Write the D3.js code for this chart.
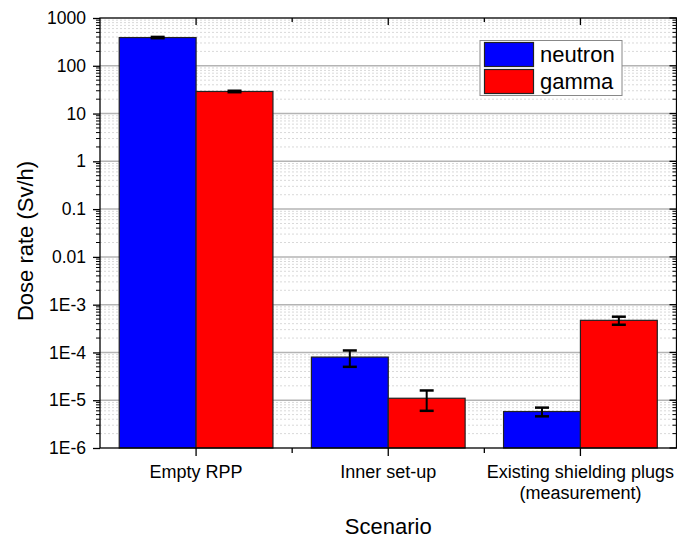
<!DOCTYPE html>
<html><head><meta charset="utf-8">
<script src="https://cdn.jsdelivr.net/npm/d3@7"></script>
<style>body{margin:0;background:#fff}svg{display:block}text{font-family:"Liberation Sans",Arial,sans-serif;fill:#000}</style>
</head><body>
<svg id="c" width="677" height="538"></svg>
<script>
const categories = ["Empty RPP", "Inner set-up", "Existing shielding plugs\n(measurement)"];
const seriesNames = ["neutron", "gamma"];
const seriesColors = ["#0000ff", "#ff0000"];
const neutron = [390, 8e-5, 5.8e-6];
const neutronErr = [12, 3e-5, 1.2e-6];
const gamma = [29, 1.1e-5, 4.7e-4];
const gammaErr = [1, 5e-6, 9e-5];
const yTickValues = [1000, 100, 10, 1, 0.1, 0.01, 1e-3, 1e-4, 1e-5, 1e-6];
const yTickLabels = ["1000", "100", "10", "1", "0.1", "0.01", "1E-3", "1E-4", "1E-5", "1E-6"];

const L = 100, R = 676.5, T = 18, B = 448;
const svg = d3.select("#c");
const y = d3.scaleLog().domain([1e-6, 1000]).range([B, T]);
const x = d3.scalePoint().domain(categories).range([L, R]).padding(0.5);
const step = x.step();
const bw = step * 0.4;

const minorVals = [];
for (let e = -6; e < 3; e++) for (let m = 2; m <= 9; m++) minorVals.push(m * Math.pow(10, e));

// grid
const g = svg.append("g");
g.selectAll("line.mg").data(minorVals).join("line")
  .attr("x1", L).attr("x2", R).attr("y1", d => y(d)).attr("y2", d => y(d))
  .attr("stroke", "#d9d9d9").attr("stroke-width", 1).attr("stroke-dasharray", "2,2");
g.selectAll("line.Mg").data(yTickValues.slice(1, -1)).join("line")
  .attr("x1", L).attr("x2", R).attr("y1", d => y(d)).attr("y2", d => y(d))
  .attr("stroke", "#b4b4b4").attr("stroke-width", 1.5);

// bars
const data = [];
categories.forEach((c, i) => {
  data.push({c, s: 0, v: neutron[i], e: neutronErr[i]});
  data.push({c, s: 1, v: gamma[i], e: gammaErr[i]});
});
svg.selectAll("rect.bar").data(data).join("rect")
  .attr("x", d => x(d.c) - bw + d.s * bw)
  .attr("width", bw)
  .attr("y", d => y(d.v))
  .attr("height", d => B - y(d.v))
  .attr("fill", d => seriesColors[d.s])
  .attr("stroke", "#222").attr("stroke-width", 1.2);

// error bars
const eb = svg.append("g").attr("stroke", "#000");
data.forEach(d => {
  const cx = x(d.c) - bw / 2 + d.s * bw;
  const y1 = y(d.v + d.e), y2 = y(d.v - d.e);
  eb.append("line").attr("x1", cx).attr("x2", cx).attr("y1", y1).attr("y2", y2).attr("stroke-width", 2);
  eb.append("line").attr("x1", cx - 7).attr("x2", cx + 7).attr("y1", y1).attr("y2", y1).attr("stroke-width", 2.5);
  eb.append("line").attr("x1", cx - 7).attr("x2", cx + 7).attr("y1", y2).attr("y2", y2).attr("stroke-width", 2.5);
});

// frame
svg.append("rect").attr("x", L).attr("y", T).attr("width", R - L).attr("height", B - T)
  .attr("fill", "none").attr("stroke", "#000").attr("stroke-width", 1.3);

// left axis
const yAxis = d3.axisLeft(y).tickValues(yTickValues).tickFormat((d, i) => yTickLabels[i]).tickSize(7).tickPadding(7);
const ga = svg.append("g").attr("transform", `translate(${L},0)`).call(yAxis);
ga.select(".domain").remove();
ga.selectAll("text").style("font-size", "17.5px").style("font-family", '"Liberation Sans",Arial,sans-serif');
ga.selectAll("line").attr("stroke-width", 1.3);
svg.append("g").selectAll("line").data(minorVals).join("line")
  .attr("x1", L - 4).attr("x2", L).attr("y1", d => y(d)).attr("y2", d => y(d))
  .attr("stroke", "#000").attr("stroke-width", 1);
// right axis (inward)
svg.append("g").selectAll("line").data(yTickValues).join("line")
  .attr("x1", R - 7).attr("x2", R).attr("y1", d => y(d)).attr("y2", d => y(d))
  .attr("stroke", "#000").attr("stroke-width", 1.3);
svg.append("g").selectAll("line").data(minorVals).join("line")
  .attr("x1", R - 4).attr("x2", R).attr("y1", d => y(d)).attr("y2", d => y(d))
  .attr("stroke", "#000").attr("stroke-width", 1);

// x ticks
const minorX = categories.slice(0, -1).map(c => x(c) + step / 2);
const xt = svg.append("g").attr("stroke", "#000").attr("stroke-width", 1.3);
categories.forEach(c => {
  xt.append("line").attr("x1", x(c)).attr("x2", x(c)).attr("y1", B).attr("y2", B + 8);
  xt.append("line").attr("x1", x(c)).attr("x2", x(c)).attr("y1", T).attr("y2", T + 7);
});
minorX.forEach(v => {
  xt.append("line").attr("x1", v).attr("x2", v).attr("y1", B).attr("y2", B + 5);
  xt.append("line").attr("x1", v).attr("x2", v).attr("y1", T).attr("y2", T + 4);
});
categories.forEach(c => {
  const t = svg.append("text").attr("text-anchor", "middle").style("font-size", "18px");
  c.split("\n").forEach((ln, i) => t.append("tspan").attr("x", x(c)).attr("y", 478 + i * 21).text(ln));
});

// axis titles
svg.append("text").attr("transform", `translate(33,${(T + B) / 2 + 8}) rotate(-90)`)
  .attr("text-anchor", "middle").style("font-size", "22px").text("Dose rate (Sv/h)");
svg.append("text").attr("x", (L + R) / 2).attr("y", 534).attr("text-anchor", "middle")
  .style("font-size", "22px").text("Scenario");

// legend
const lg = svg.append("g");
lg.append("rect").attr("x", 480).attr("y", 40.5).attr("width", 142).attr("height", 55)
  .attr("fill", "#fff").attr("stroke", "#888").attr("stroke-width", 1);
seriesNames.forEach((n, i) => {
  lg.append("rect").attr("x", 484.5).attr("y", 42.5 + i * 27).attr("width", 49).attr("height", 24)
    .attr("fill", seriesColors[i]).attr("stroke", "#222").attr("stroke-width", 1.2);
  lg.append("text").attr("x", 540).attr("y", 62 + i * 27).style("font-size", "22px").text(n);
});
</script>
</body></html>
